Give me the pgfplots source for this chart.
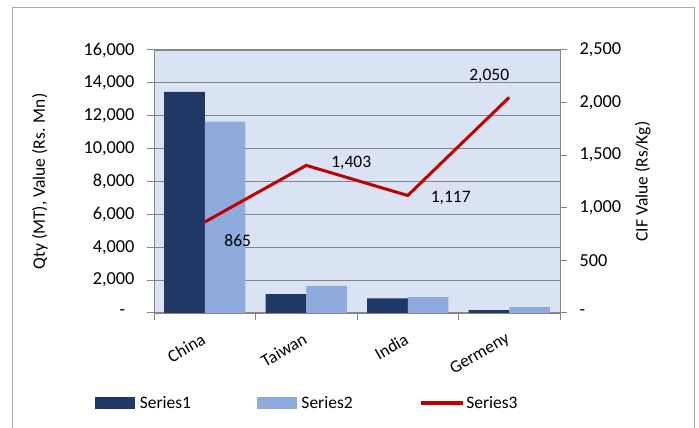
\documentclass[border=0pt]{standalone}
\usepackage{pgfplots}
\pgfplotsset{compat=1.18}
\usepackage{fontspec}
\setmainfont{Carlito}
\definecolor{sone}{RGB}{32,56,100}
\definecolor{stwo}{RGB}{143,170,220}
\definecolor{sthree}{RGB}{192,0,0}
\definecolor{bgc}{RGB}{218,227,243}
\definecolor{gridc}{RGB}{134,134,134}
\definecolor{framec}{RGB}{170,170,170}
\pgfplotstableread{
x s1 s2
0 13450 11650
1 1150 1650
2 890 970
3 180 350
}\bardata
\pgfplotstableread{
x y dx dy
0 865 33 -19
1 1403 45 2
2 1117 43 -2
3 2050 -20 21
}\linedata
\begin{document}
\begin{tikzpicture}[font=\fontsize{17.5bp}{20bp}\selectfont]
\path[use as bounding box] (0,0) rectangle (699bp,428bp);
\draw[framec, line width=1bp] (12bp,-5bp) rectangle (694bp,420bp);
\begin{axis}[
  at={(154bp,115bp)}, anchor=south west, scale only axis,
  width=406bp, height=263bp,
  xmin=-0.5, xmax=3.5, ymin=0, ymax=16000,
  scaled y ticks=false,
  axis background/.style={fill=bgc},
  axis line style={gridc, line width=1bp},
  ymajorgrids, major grid style={gridc, line width=1.2bp},
  ybar, bar width=0.4,
  xtick={0,1,2,3}, xticklabels={China,Taiwan,India,Germeny},
  minor xtick={-0.5,0.5,1.5,2.5,3.5},
  major x tick style={draw=none},
  tick style={gridc, line width=1bp},
  tick align=outside, major tick length=7bp, minor tick length=7bp,
  xtick pos=bottom, ytick pos=left,
  ytick={0,2000,4000,6000,8000,10000,12000,14000,16000},
  yticklabels={-\hphantom{0},{2,000},{4,000},{6,000},{8,000},{10,000},{12,000},{14,000},{16,000}},
  yticklabel style={font=\fontsize{18.3bp}{20bp}\selectfont, xshift=-9bp},
  xticklabel style={xshift=2bp, yshift=-16bp, rotate=30, anchor=east},
  every axis y label/.style={at={(axis description cs:-0.281,0.5)}, anchor=center, rotate=90},
  ylabel={Qty (MT), Value (Rs. Mn)},
  legend style={at={(axis description cs:0.378,-0.342)}, anchor=center, draw=none, fill=none,
    legend columns=3, /tikz/every even column/.append style={column sep=64bp},
    nodes={inner sep=2bp}},
  legend cell align=left,
]
\addplot[fill=sone, draw=none, forget plot, bar shift=-0.2] table[x=x, y=s1] {\bardata};
\addplot[fill=stwo, draw=none, forget plot, bar shift=0.2] table[x=x, y=s2] {\bardata};
\addlegendimage{legend image code/.code={\fill[sone] (0bp,-5.5bp) rectangle (39bp,5.5bp);}}
\addlegendentry{\hspace{3bp}Series1}
\addlegendimage{legend image code/.code={\fill[stwo] (0bp,-5.5bp) rectangle (39bp,5.5bp);}}
\addlegendentry{\hspace{3bp}Series2}
\addlegendimage{legend image code/.code={\draw[sthree, line width=3.5bp] (0bp,0bp) -- (42bp,0bp);}}
\addlegendentry{Series3}
\end{axis}
\begin{axis}[
  at={(154bp,115bp)}, anchor=south west, scale only axis,
  width=406bp, height=263bp,
  xmin=-0.5, xmax=3.5, ymin=0, ymax=2500,
  axis x line=none, axis y line*=right,
  axis line style={gridc, line width=1bp},
  tick style={gridc, line width=1bp},
  tick align=outside, major tick length=7bp,
  ytick={0,500,1000,1500,2000,2500},
  yticklabels={-,500,{1,000},{1,500},{2,000},{2,500}},
  yticklabel style={font=\fontsize{18.3bp}{20bp}\selectfont, xshift=9bp},
  every axis y label/.style={at={(axis description cs:1.204,0.5)}, anchor=center, rotate=90},
  ylabel={CIF Value (Rs/Kg)},
  /pgf/number format/.cd, 1000 sep={,}, assume math mode=true,
]
\addplot[sthree, line width=3bp, mark=none,
  nodes near coords, nodes near coords style={black},
  visualization depends on={\thisrow{dx}\as\dx},
  visualization depends on={\thisrow{dy}\as\dy},
  every node near coord/.append style={anchor=center, xshift=\dx bp, yshift=\dy bp},
  point meta=explicit,
] table[x=x, y=y, meta=y] {\linedata};
\end{axis}
\end{tikzpicture}
\end{document}
